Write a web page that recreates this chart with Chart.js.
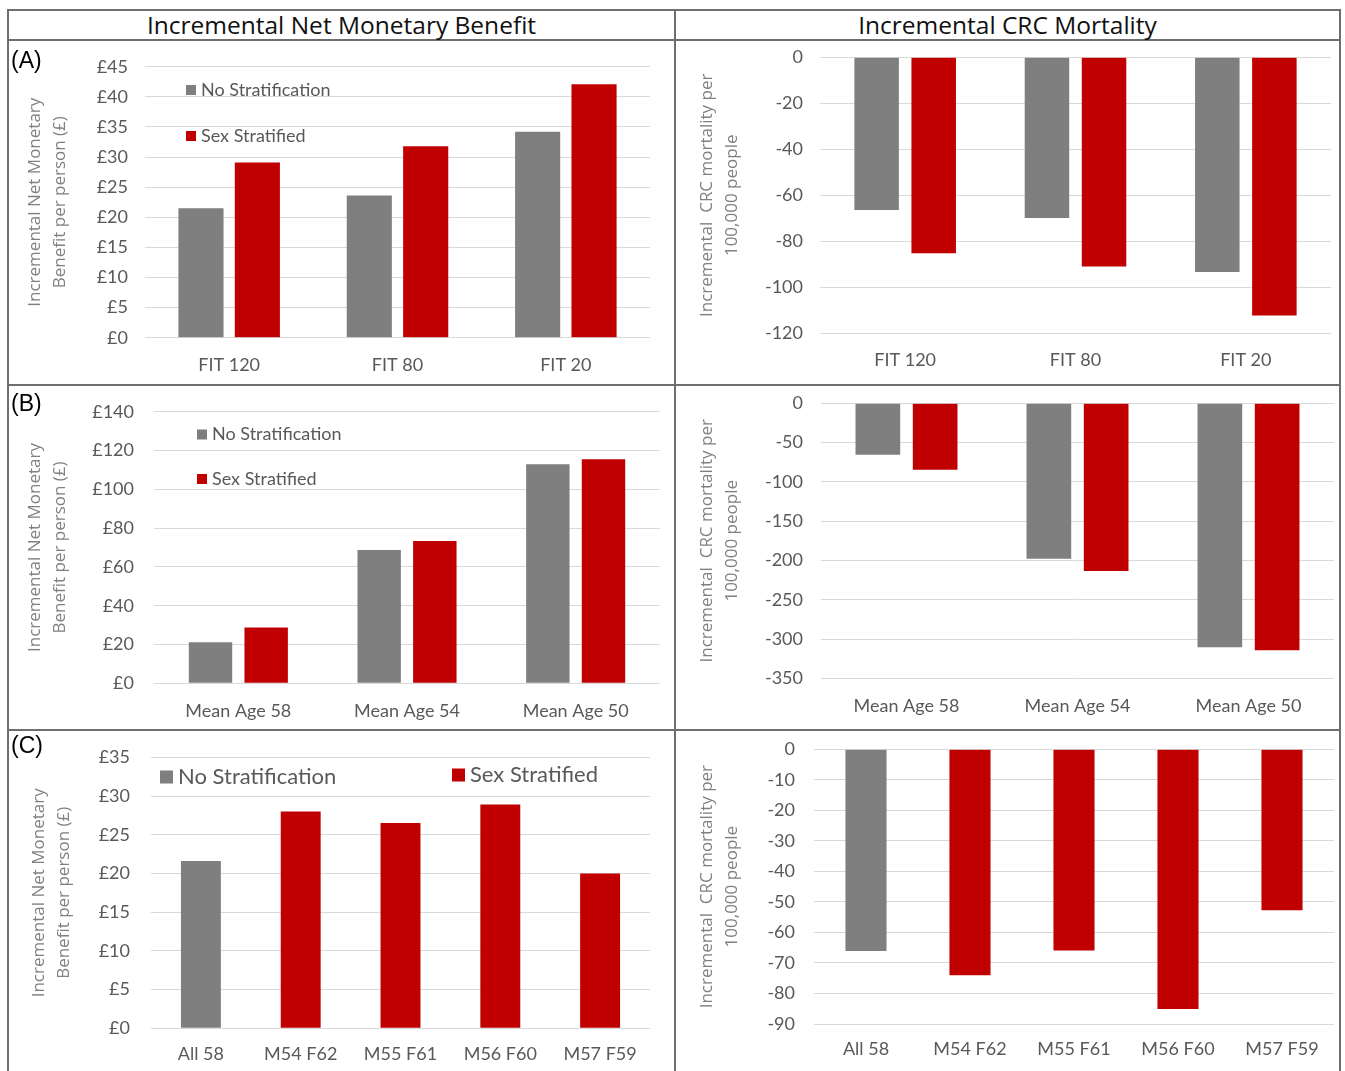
<!DOCTYPE html>
<html>
<head>
<meta charset="utf-8">
<script src="https://cdn.jsdelivr.net/npm/chart.js@4.4.1/dist/chart.umd.min.js"></script>
<style>
  body { margin: 0; background: #fff; width: 1345px; height: 1071px; position: relative; overflow: hidden; }
  .ln { position: absolute; background: #6e6e6e; }
  .cell { position: absolute; }
  .head { position: absolute; top: 10px; height: 29px; line-height: 29px; text-align: center;
          font-family: 'Open Sans', sans-serif; font-size: 24.5px; color: #111; }
  .tag { position: absolute; left: 11px; font-family: 'Liberation Sans', Arial, sans-serif; font-size: 23px; color: #000; line-height: 26px; }
</style>
</head>
<body>
<div class="ln" style="left:7px;top:9px;width:1334px;height:2px"></div>
<div class="ln" style="left:7px;top:39px;width:1334px;height:2px"></div>
<div class="ln" style="left:7px;top:384px;width:1334px;height:2px"></div>
<div class="ln" style="left:7px;top:729px;width:1334px;height:2px"></div>
<div class="ln" style="left:7px;top:9px;width:2px;height:1062px"></div>
<div class="ln" style="left:674px;top:9px;width:2px;height:1062px"></div>
<div class="ln" style="left:1339px;top:9px;width:2px;height:1062px"></div>

<div class="head" style="left:9px;width:665px">Incremental Net Monetary Benefit</div>
<div class="head" style="left:676px;width:663px">Incremental CRC Mortality</div>

<canvas id="aLeft" class="cell" width="665" height="343" style="left:9px;top:41px"></canvas>
<canvas id="aRight" class="cell" width="663" height="343" style="left:676px;top:41px"></canvas>
<canvas id="bLeft" class="cell" width="665" height="343" style="left:9px;top:386px"></canvas>
<canvas id="bRight" class="cell" width="663" height="343" style="left:676px;top:386px"></canvas>
<canvas id="cLeft" class="cell" width="665" height="340" style="left:9px;top:731px"></canvas>
<canvas id="cRight" class="cell" width="663" height="340" style="left:676px;top:731px"></canvas>

<div class="tag" style="top:47px">(A)</div>
<div class="tag" style="top:390px">(B)</div>
<div class="tag" style="top:732px">(C)</div>

<script>
// categories
const fitLabels = ['FIT 120', 'FIT 80', 'FIT 20'];
const ageLabels = ['Mean Age 58', 'Mean Age 54', 'Mean Age 50'];
const splitLabels = ['All 58', 'M54 F62', 'M55 F61', 'M56 F60', 'M57 F59'];
const seriesNames = ['No Stratification', 'Sex Stratified'];

// (A) FIT thresholds
const fitNmbNone = [21.5, 23.6, 34.2];
const fitNmbSex = [29.1, 31.8, 42.1];
const fitMortNone = [-66.4, -69.9, -93.3];
const fitMortSex = [-85.2, -91.0, -112.3];

// (B) starting age
const ageNmbNone = [21.1, 68.7, 112.9];
const ageNmbSex = [28.7, 73.3, 115.5];
const ageMortNone = [-65.4, -198.0, -310.5];
const ageMortSex = [-84.5, -213.3, -314.3];

// (C) sex specific start ages
const splitNmbNone = [21.6, null, null, null, null];
const splitNmbSex = [null, 28.0, 26.5, 28.9, 20.0];
const splitMortNone = [-66.1, null, null, null, null];
const splitMortSex = [null, -74.0, -65.9, -85.1, -52.7];

const nmbTitle = ['Incremental Net Monetary', 'Benefit per person (£)'];
const mortTitle = ['Incremental  CRC mortality per', '100,000 people'];

const GREY = '#7f7f7f';
const RED = '#c00000';
const TICK = '#595959';

// draws the legend inside the plot area like the original
const insideLegend = {
    id: 'insideLegend',
    afterDraw(chart, args, opts) {
        if (!opts.items) return;
        const {ctx, chartArea} = chart;
        ctx.save();
        ctx.font = opts.size + 'px Lato';
        ctx.textBaseline = 'middle';
        opts.items.forEach((p, i) => {
            const ds = chart.data.datasets[i];
            const x = chartArea.left + p[0];
            const y = chartArea.top + p[1];
            ctx.fillStyle = ds.backgroundColor;
            ctx.fillRect(x, y - opts.box / 2, opts.box, opts.box);
            ctx.fillStyle = TICK;
            ctx.fillText(ds.label, x + opts.box + 5, y);
        });
        ctx.restore();
    }
};

function makeChart(id, labels, none, sex, cfg) {
    const canvas = document.getElementById(id);
    const cx = parseFloat(canvas.style.left), cy = parseFloat(canvas.style.top);
    const W = canvas.width, H = canvas.height;
    const a = cfg.area;
    const yw = a.l - cx;
    const xh = H - (a.b - cy);
    const tickFont = {family: 'Lato', size: 18};
    new Chart(canvas, {
        type: 'bar',
        data: {
            labels: labels,
            datasets: [
                {label: seriesNames[0], data: none, backgroundColor: GREY},
                {label: seriesNames[1], data: sex, backgroundColor: RED}
            ]
        },
        plugins: [insideLegend],
        options: {
            responsive: false,
            animation: false,
            skipNull: true,
            categoryPercentage: cfg.cp,
            barPercentage: cfg.bp,
            layout: {padding: {left: 0, top: a.t - cy, right: cx + W - a.r, bottom: 0}},
            scales: {
                x: {
                    grid: {display: false},
                    border: {display: false},
                    ticks: {color: TICK, font: tickFont, padding: cfg.labelY - a.b - 17.5, maxRotation: 0},
                    afterFit: s => { s.height = xh; }
                },
                y: {
                    min: cfg.min, max: cfg.max,
                    grid: {color: '#d9d9d9', drawTicks: false},
                    border: {display: false},
                    ticks: {
                        stepSize: cfg.step, color: TICK, font: tickFont, padding: cfg.tickPad,
                        callback: v => cfg.money ? '£' + v : v
                    },
                    title: {
                        display: true, text: cfg.title, color: '#808080',
                        font: {family: 'Open Sans', size: 17, lineHeight: 1.45},
                        padding: {top: cfg.titleX - cx - 12.3, bottom: 0}
                    },
                    afterFit: s => { s.width = yw; s.paddingTop = 10; s.paddingBottom = 10; }
                }
            },
            plugins: {
                legend: {display: false},
                tooltip: {enabled: false},
                insideLegend: cfg.legend || {}
            }
        }
    });
}

makeChart('aLeft', fitLabels, fitNmbNone, fitNmbSex, {
    area: {l: 145, t: 66.7, r: 650, b: 337.7}, min: 0, max: 45, step: 5, money: true,
    cp: 0.67, bp: 0.8, tickPad: 17, labelY: 364, titleX: 35.5, title: nmbTitle,
    legend: {items: [[41, 23.3], [41, 69.3]], box: 10, size: 18}
});
makeChart('aRight', fitLabels, fitMortNone, fitMortSex, {
    area: {l: 820, t: 57.3, r: 1331, b: 333.3}, min: -120, max: 0, step: 20, money: false,
    cp: 0.67, bp: 0.78, tickPad: 17, labelY: 359, titleX: 707, title: mortTitle
});
makeChart('bLeft', ageLabels, ageNmbNone, ageNmbSex, {
    area: {l: 154, t: 411.7, r: 660, b: 683.3}, min: 0, max: 140, step: 20, money: true,
    cp: 0.66, bp: 0.78, tickPad: 20, labelY: 710, titleX: 35.5, title: nmbTitle,
    legend: {items: [[43, 22.8], [43, 67.3]], box: 10, size: 18}
});
makeChart('bRight', ageLabels, ageMortNone, ageMortSex, {
    area: {l: 821, t: 403.3, r: 1334, b: 678.3}, min: -350, max: 0, step: 50, money: false,
    cp: 0.67, bp: 0.78, tickPad: 18, labelY: 705, titleX: 707, title: mortTitle
});
makeChart('cLeft', splitLabels, splitNmbNone, splitNmbSex, {
    area: {l: 151, t: 757.3, r: 650, b: 1028.3}, min: 0, max: 35, step: 5, money: true,
    cp: 0.5, bp: 0.8, tickPad: 21, labelY: 1053, titleX: 39, title: nmbTitle,
    legend: {items: [[9, 19.7], [301, 17.7]], box: 13, size: 22}
});
makeChart('cRight', splitLabels, splitMortNone, splitMortSex, {
    area: {l: 814, t: 749.3, r: 1334, b: 1024}, min: -90, max: 0, step: 10, money: false,
    cp: 0.5, bp: 0.79, tickPad: 19, labelY: 1048, titleX: 707, title: mortTitle
});
</script>
</body>
</html>
